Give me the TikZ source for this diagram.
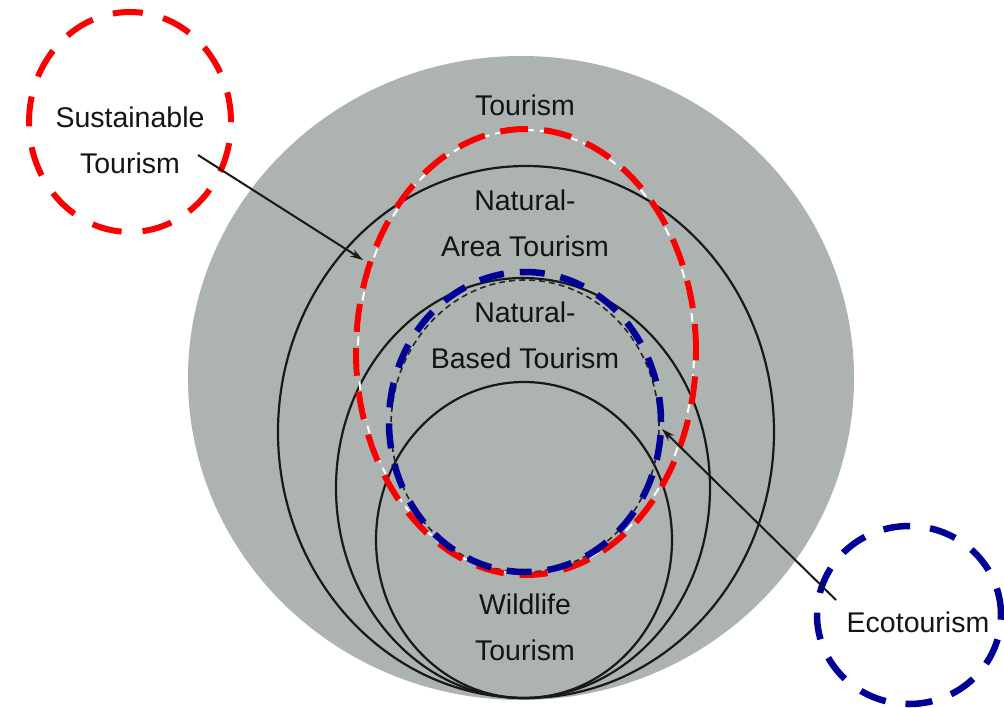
\documentclass[tikz,border=0pt]{standalone}
\usepackage{fontspec}
\setmainfont{Liberation Sans}
\usetikzlibrary{arrows.meta}
\definecolor{discgray}{RGB}{172,179,177}
\definecolor{ecoblue}{RGB}{0,0,150}
\definecolor{sustred}{RGB}{250,0,0}
\begin{document}
\begin{tikzpicture}[x=1pt,y=-1pt,
		label/.style={align=center,text=black!92,font=\fontsize{28.5}{46}\selectfont,inner sep=0pt},
		ring/.style={black!90,line width=2.2pt},
		redring/.style={sustred,line width=6pt,dash pattern=on 28pt off 16pt},
		bluering/.style={ecoblue,line width=6.5pt,dash pattern=on 25pt off 16pt},
		pointer/.style={-{Stealth[length=13pt,width=8pt]},black!90,line width=2pt}]
				\useasboundingbox (0,0) rectangle (1004,707);
				% grosse Scheibe
				\fill[discgray] (521,378) ellipse [x radius=333pt,y radius=322pt];
				% Ringe, alle unten bei (525,698) beruehrend
				\draw[ring] (526,432) ellipse [x radius=248pt,y radius=266pt];
				\draw[ring] (523,488) ellipse [x radius=187pt,y radius=210pt];
				\draw[ring] (524,540) ellipse [x radius=148pt,y radius=158pt];
				\draw[black!85,line width=1.6pt,dash pattern=on 6pt off 4pt] (525,426) ellipse [x radius=134pt,y radius=146pt];
				% gestrichelte Markierungen
				\draw[white,line width=2pt,dash pattern=on 9pt off 6pt] (526,352) ellipse [x radius=168pt,y radius=222pt];
				\draw[redring] (526,352) ellipse [x radius=170pt,y radius=223pt];
				\draw[bluering] (525,422) ellipse [x radius=136pt,y radius=150pt];
				\draw[redring,dash pattern=on 30pt off 21pt] (130,122) ellipse [x radius=101pt,y radius=110pt];
				\draw[bluering,dash pattern=on 27pt off 20pt] (909,615) ellipse [x radius=92pt,y radius=89pt];
				% Beschriftungen
				\node[label] (tour) at (525,105) {Tourism};
				\node[label] (natarea) at (525,223) {Natural-\\Area Tourism};
				\node[label] (natbased) at (525,335) {Natural-\\Based Tourism};
				\node[label] (wild) at (525,627) {Wildlife\\Tourism};
				\node[label] (sust) at (130,140) {Sustainable\\Tourism};
				\node[label] (eco) at (918,622) {Ecotourism};
				% Pfeile
				\coordinate (susttail) at (198,155);
				\coordinate (sustip) at (363,260);
				\coordinate (ecotail) at (836,600);
				\coordinate (ecotip) at (662,429);
				\draw[pointer] (susttail) -- (sustip);
				\draw[pointer] (ecotail) -- (ecotip);
			\end{tikzpicture}
\end{document}
